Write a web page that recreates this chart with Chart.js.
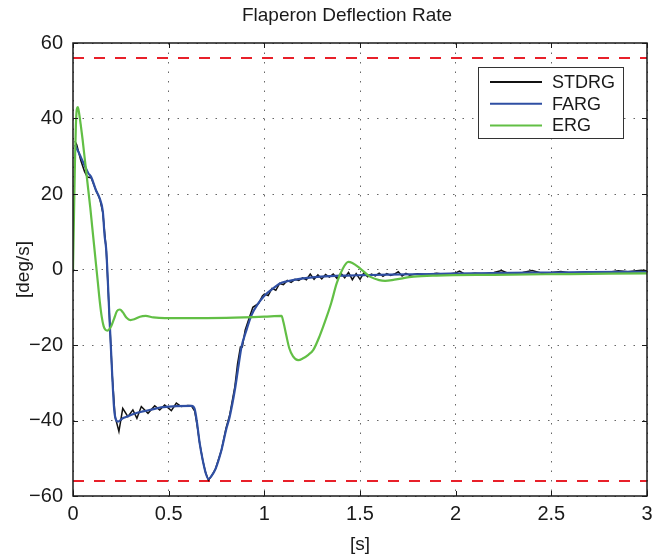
<!DOCTYPE html>
<html>
<head>
<meta charset="utf-8">
<title>Flaperon Deflection Rate</title>
<script src="https://cdn.jsdelivr.net/npm/chart.js@4.4.1/dist/chart.umd.min.js"></script>
<style>
    html, body { margin: 0; padding: 0; background: #ffffff; }
    #chart { display: block; }
</style>
</head>
<body>
<canvas id="chart" width="663" height="559"></canvas>
<script>
// Valores (tempo em s, taxa em deg/s)
const stdrgT = [0.01, 0.02, 0.04, 0.06, 0.075, 0.095, 0.12, 0.14, 0.156, 0.174, 0.19, 0.205, 0.22, 0.24,
    0.26, 0.287, 0.313, 0.334, 0.357, 0.392, 0.427, 0.453, 0.479, 0.514, 0.54, 0.566, 0.6, 0.619, 0.636,
    0.648, 0.662, 0.678, 0.693, 0.708, 0.725, 0.745, 0.776, 0.8, 0.819, 0.846, 0.86, 0.875, 0.885, 0.9,
    0.92, 0.94, 0.97, 0.99, 1.0, 1.02, 1.04, 1.06, 1.08, 1.1, 1.12, 1.14, 1.16, 1.18, 1.2, 1.22, 1.24,
    1.26, 1.28, 1.3, 1.32, 1.34, 1.36, 1.38, 1.4, 1.42, 1.44, 1.46, 1.48, 1.5, 1.52, 1.54, 1.56, 1.58,
    1.6, 1.62, 1.64, 1.66, 1.68, 1.7, 1.72, 1.74, 1.76, 1.8, 1.85, 1.9, 1.95, 2.0, 2.02, 2.05, 2.1, 2.15,
    2.2, 2.24, 2.28, 2.35, 2.4, 2.45, 2.5, 2.55, 2.6, 2.7, 2.8, 2.85, 2.9, 2.97, 3.0];
const stdrgV = [34, 33, 29, 26, 24.5, 24.3, 21, 18.7, 15, 5, -12, -28, -39, -42.9,
    -36.8, -39, -37.2, -39.4, -36.3, -38.1, -36.1, -37.2, -35.9, -37.4, -35.4, -36.3, -36, -36.1, -37.5,
    -41, -46, -50.5, -53.8, -55.8, -54.6, -52.8, -47.8, -42, -38.5, -31, -25, -20.5, -20.5, -16,
    -13, -10, -9, -7, -6.5, -6.9, -5.0, -5.5, -3.7, -4.0, -2.9, -3.4, -2.6, -2.9, -2.2, -2.7, -1.2,
    -2.6, -1.4, -2.5, -1.3, -2.0, -1.2, -2.4, -1.0, -2.2, -0.8, -2.7, -1.1, -2.6, -0.9, -1.9, -1.2, -1.7,
    -1.0, -1.8, -1.1, -1.6, -1.2, -0.6, -1.7, -1.0, -1.5, -1.1, -1.4, -1.0, -1.3, -0.9, -0.4, -1.3, -1.0, -1.2,
    -0.8, -0.3, -1.1, -0.8, -0.3, -1.0, -0.8, -0.5, -0.9, -0.6, -0.7, -0.3, -0.6, -0.2, -0.3];

const fargT = [0.01, 0.03, 0.06, 0.08, 0.095, 0.12, 0.139, 0.156, 0.165, 0.174, 0.19, 0.205, 0.217, 0.235,
    0.26, 0.28, 0.32, 0.365, 0.42, 0.46, 0.54, 0.62, 0.636, 0.648, 0.662, 0.678, 0.693, 0.708, 0.725,
    0.745, 0.776, 0.8, 0.819, 0.846, 0.865, 0.881, 0.907, 0.933, 0.968, 1.003, 1.046, 1.081, 1.12, 1.169,
    1.25, 1.343, 1.43, 1.517, 1.65, 1.866, 2.1, 2.4, 2.7, 3.0];
const fargV = [33, 31, 27.6, 25.5, 24.5, 21, 18.9, 15.3, 9, 5, -12, -28, -38, -40.3,
    -39.4, -39, -38.2, -37.6, -37, -36.5, -36.2, -36.1, -37, -40.5, -46, -50.5, -53.8, -55.5, -54.6,
    -52.8, -47.8, -42.5, -39, -31.9, -25.5, -20.4, -16, -12.1, -9, -6.8, -5, -3.7, -3.1, -2.6,
    -2.1, -1.75, -1.6, -1.5, -1.35, -1.2, -1.0, -0.85, -0.7, -0.6];

const ergT = [0, 0.005, 0.01, 0.015, 0.02, 0.025, 0.03, 0.04, 0.05, 0.06, 0.07, 0.08, 0.09, 0.1, 0.11,
    0.12, 0.13, 0.14, 0.15, 0.16, 0.17, 0.18, 0.19, 0.2, 0.215, 0.23, 0.245, 0.26, 0.28, 0.3, 0.32,
    0.35, 0.38, 0.42, 0.48, 0.6, 0.8, 1.0, 1.09, 1.1, 1.115, 1.13, 1.15, 1.177, 1.2, 1.23, 1.256,
    1.29, 1.326, 1.35, 1.378, 1.41, 1.439, 1.46, 1.5, 1.552, 1.6, 1.631, 1.68, 1.78, 1.9, 2.2, 2.6, 3.0];
const ergV = [0, 14, 28, 38, 42.5, 43, 42, 38.5, 34.5, 30, 25.5, 21, 16.5, 11.5, 6.5,
    1.5, -3.5, -8.5, -12.5, -15, -16, -16.2, -15.8, -15, -13, -11, -10.6, -11.3, -12.8, -13.4, -13.2,
    -12.5, -12.3, -12.7, -12.9, -12.9, -12.8, -12.5, -12.3, -14, -17.5, -20.8, -23, -24, -23.6, -22.6, -21.3,
    -17.5, -12.5, -8.8, -3.7, 0.2, 2.0, 1.7, 0.3, -1.9, -2.8, -3.0, -2.7, -1.9, -1.6, -1.4, -1.2, -1.0];

// Limites de taxa (linhas tracejadas vermelhas)
const limitT = [0, 3];
const limitHi = [56, 56];
const limitLo = [-56, -56];

const xTicks = [0, 0.5, 1, 1.5, 2, 2.5, 3];
const yTicks = [-60, -40, -20, 0, 20, 40, 60];
const chartTitle = "Flaperon Deflection Rate";

const FONT = "'Liberation Sans', Arial, Helvetica, sans-serif";

function pares(ts, vs) {
    return ts.map((t, i) => ({ x: t, y: vs[i] }));
}

// Caixa, marcas internas, título e legenda estilo MATLAB
const estiloMatlab = {
    id: "estiloMatlab",
    afterDraw(chart) {
        const ctx = chart.ctx;
        const area = chart.chartArea;
        const xs = chart.scales.x;
        const ys = chart.scales.y;

        ctx.save();
        ctx.strokeStyle = "#1a1a1a";
        ctx.lineWidth = 1;
        ctx.beginPath();
        xTicks.forEach(v => {
            const px = Math.round(xs.getPixelForValue(v)) + 0.5;
            ctx.moveTo(px, area.bottom); ctx.lineTo(px, area.bottom - 5);
            ctx.moveTo(px, area.top); ctx.lineTo(px, area.top + 5);
        });
        yTicks.forEach(v => {
            const py = Math.round(ys.getPixelForValue(v)) + 0.5;
            ctx.moveTo(area.left, py); ctx.lineTo(area.left + 5, py);
            ctx.moveTo(area.right, py); ctx.lineTo(area.right - 5, py);
        });
        ctx.stroke();

        ctx.lineWidth = 1.5;
        ctx.strokeRect(area.left, area.top, area.right - area.left, area.bottom - area.top);

        // Título
        ctx.fillStyle = "#1a1a1a";
        ctx.font = "19px " + FONT;
        ctx.textAlign = "center";
        ctx.textBaseline = "middle";
        ctx.fillText(chartTitle, area.left + 274, 16);

        // Legenda
        const entradas = chart.data.datasets.filter(d => d.label);
        const lx = area.right - 169;
        const ly = area.top + 24;
        const lw = 145;
        const lh = 71;
        ctx.fillStyle = "#ffffff";
        ctx.fillRect(lx, ly, lw, lh);
        ctx.lineWidth = 1;
        ctx.strokeStyle = "#333333";
        ctx.strokeRect(lx + 0.5, ly + 0.5, lw, lh);
        ctx.font = "18px " + FONT;
        ctx.textBaseline = "middle";
        ctx.textAlign = "left";
        entradas.forEach((d, i) => {
            const y = ly + 15 + i * 21.7;
            ctx.strokeStyle = d.borderColor;
            ctx.lineWidth = 2;
            ctx.beginPath();
            ctx.moveTo(lx + 12, y);
            ctx.lineTo(lx + 64, y);
            ctx.stroke();
            ctx.fillStyle = "#1a1a1a";
            ctx.fillText(d.label, lx + 74, y + 1);
        });
        ctx.restore();
    }
};

document.addEventListener("DOMContentLoaded", function () {
    const ctx = document.getElementById("chart").getContext("2d");

    new Chart(ctx, {
        type: "line",
        data: {
            datasets: [
                {
                    label: "STDRG",
                    data: pares(stdrgT, stdrgV),
                    borderColor: "#111111",
                    borderWidth: 1.5,
                    pointRadius: 0,
                    tension: 0,
                    order: 2,
                },
                {
                    label: "FARG",
                    data: pares(fargT, fargV),
                    borderColor: "#2f4fa3",
                    borderWidth: 2.2,
                    pointRadius: 0,
                    cubicInterpolationMode: "monotone",
                    order: 1,
                },
                {
                    label: "ERG",
                    data: pares(ergT, ergV),
                    borderColor: "#62bf45",
                    borderWidth: 2.2,
                    pointRadius: 0,
                    cubicInterpolationMode: "monotone",
                    order: 0,
                },
                {
                    label: "",
                    data: pares(limitT, limitHi),
                    borderColor: "#e8202a",
                    borderWidth: 2,
                    borderDash: [11, 10],
                    pointRadius: 0,
                    order: 3,
                },
                {
                    label: "",
                    data: pares(limitT, limitLo),
                    borderColor: "#e8202a",
                    borderWidth: 2,
                    borderDash: [11, 10],
                    pointRadius: 0,
                    order: 3,
                },
            ],
        },
        options: {
            responsive: false,
            animation: false,
            layout: { padding: { left: 0, right: 16, top: 43, bottom: 0 } },
            plugins: {
                legend: { display: false },
                tooltip: { enabled: false },
                title: { display: false },
            },
            scales: {
                x: {
                    type: "linear",
                    min: 0,
                    max: 3,
                    afterFit(s) { s.height = 63; },
                    afterBuildTicks(s) { s.ticks = xTicks.map(v => ({ value: v })); },
                    ticks: {
                        color: "#1a1a1a",
                        padding: 6,
                        font: { family: FONT, size: 20 },
                        callback: v => String(v),
                    },
                    grid: { color: "rgba(0,0,0,0.6)", lineWidth: 1, drawTicks: false },
                    border: { display: false, dash: [1.5, 8] },
                    title: {
                        display: true,
                        text: "[s]",
                        color: "#1a1a1a",
                        font: { family: FONT, size: 19 },
                        padding: { top: 0, bottom: 3 },
                    },
                },
                y: {
                    min: -60,
                    max: 60,
                    afterFit(s) { s.width = 73; },
                    afterBuildTicks(s) { s.ticks = yTicks.map(v => ({ value: v })); },
                    ticks: {
                        color: "#1a1a1a",
                        padding: 10,
                        font: { family: FONT, size: 20 },
                        callback: v => String(v).replace("-", "\u2212"),
                    },
                    grid: { color: "rgba(0,0,0,0.6)", lineWidth: 1, drawTicks: false },
                    border: { display: false, dash: [1.5, 8] },
                    title: {
                        display: true,
                        text: "[deg/s]",
                        color: "#1a1a1a",
                        font: { family: FONT, size: 19 },
                        padding: { top: 12, bottom: 0 },
                    },
                },
            },
        },
        plugins: [estiloMatlab],
    });
});
</script>
</body>
</html>
